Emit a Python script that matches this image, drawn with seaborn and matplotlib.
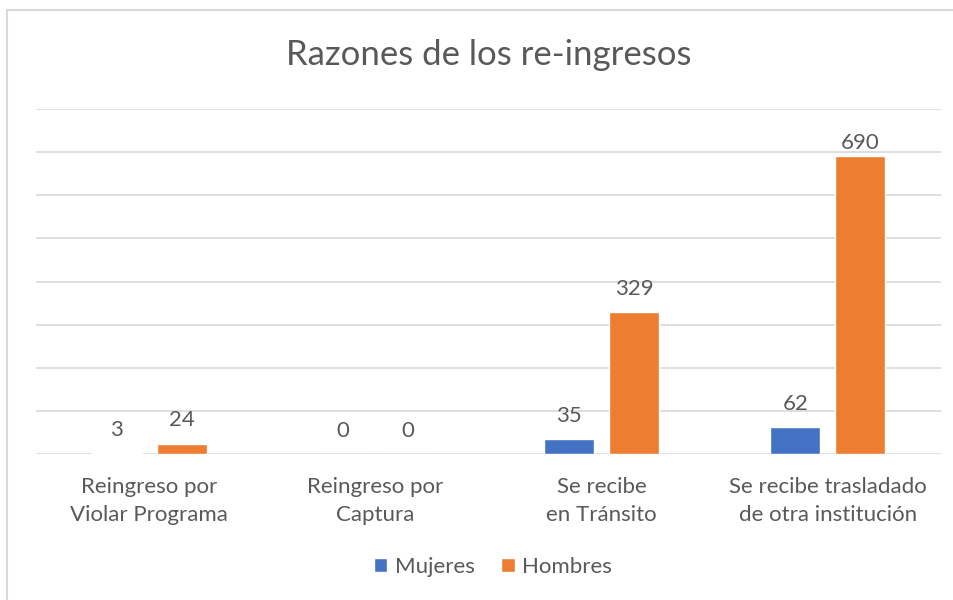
import pandas as pd
import seaborn as sns
import matplotlib.pyplot as plt
from matplotlib.patches import Rectangle

categorias = ["Reingreso por\nViolar Programa", "Reingreso por\nCaptura",
              "Se recibe\nen Tránsito", "Se recibe trasladado\nde otra institución"]
mujeres = [3, 0, 35, 62]
hombres = [24, 0, 329, 690]

df = pd.DataFrame({
    "categoria": categorias * 2,
    "valor": mujeres + hombres,
    "sexo": ["Mujeres"] * 4 + ["Hombres"] * 4,
})

sns.set_style("white")
plt.rcParams["font.family"] = ["Lato", "DejaVu Sans"]
texto = "#595959"
fs = 16

fig = plt.figure(figsize=(9.54, 6), dpi=100)
ax = fig.add_axes([36 / 954, 146 / 600, 905 / 954, 345 / 600])

sns.barplot(data=df, x="categoria", y="valor", hue="sexo",
            palette={"Mujeres": "#4472C4", "Hombres": "#ED7D31"},
            width=0.575, gap=0.23, ax=ax, saturation=1, legend=True)

for cont in ax.containers:
    labels = ax.bar_label(cont, padding=9.5, fontsize=fs, color=texto)
    # Excel pulls the label closer when it runs into the top of the plot
    for bar, lab in zip(cont, labels):
        if bar.get_height() > 650:
            lab.xyann = (0, 2.5)

ax.set_ylim(0, 800)
ax.set_yticks(range(0, 801, 100))
ax.yaxis.grid(True, color="#D9D9D9", linewidth=1.2)
ax.set_axisbelow(True)
ax.tick_params(axis="y", left=False, labelleft=False)
ax.tick_params(axis="x", bottom=False, labelsize=fs, labelcolor=texto, pad=13)
plt.setp(ax.get_xticklabels(), linespacing=1.5)
for s in ax.spines.values():
    s.set_visible(False)
ax.set_xlabel("")
ax.set_ylabel("")

fig.text(489 / 954, 1 - 55 / 600, "Razones de los re-ingresos", ha="center",
         va="center", fontsize=25, color=texto)

ax.legend(loc="center", bbox_to_anchor=(493 / 954, 1 - 567 / 600),
          bbox_transform=fig.transFigure, ncol=2, frameon=False,
          fontsize=fs, labelcolor=texto, handlelength=0.6, handleheight=0.6,
          handletextpad=0.35, columnspacing=1.2)

fig.patches.append(Rectangle((7 / 954, -0.1), 1.2, (590 / 600) + 0.1,
                             transform=fig.transFigure, fill=False,
                             edgecolor="#D9D9D9", linewidth=1.5))

fig.savefig("out.png", dpi=100)
